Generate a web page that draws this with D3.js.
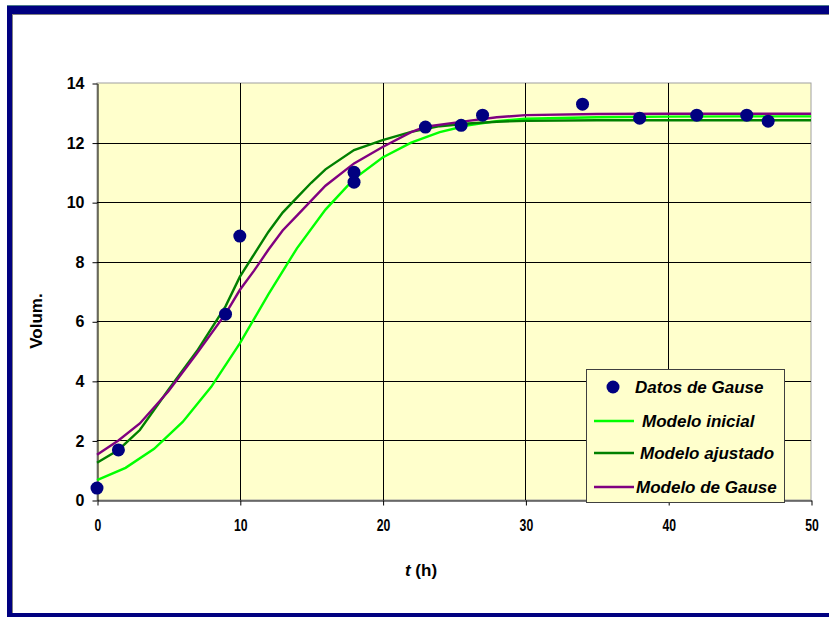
<!DOCTYPE html>
<html><head><meta charset="utf-8">
<script src="https://cdn.jsdelivr.net/npm/d3@7"></script>
<style>
html,body{margin:0;padding:0;background:#fff;}
svg{display:block;}
text{font-family:Arial,"Liberation Sans",sans-serif;font-weight:bold;fill:#000;}
</style></head>
<body>
<svg id="chart" width="829" height="617"></svg>
<script>
// ---- data ----
const xTicks = [0, 10, 20, 30, 40, 50];
const yTicks = [0, 2, 4, 6, 8, 10, 12, 14];
const datosT = [0, 1.5, 9, 10, 18, 18, 23, 25.5, 27, 34, 38, 42, 45.5, 47];
const datosV = [0.4, 1.68, 6.24, 8.86, 11.0, 10.67, 12.52, 12.58, 12.92, 13.29, 12.82, 12.92, 12.92, 12.72];
const inicialT = [0, 2, 4, 6, 8, 10, 12, 14, 16, 18, 20, 22, 24, 26, 28, 30, 35, 40, 45, 50];
const inicialV = [0.67, 1.08, 1.72, 2.62, 3.8, 5.26, 6.9, 8.45, 9.75, 10.78, 11.5, 12.0, 12.35, 12.58, 12.72, 12.8, 12.85, 12.87, 12.88, 12.88];
const ajustadoT = [0, 1.5, 3, 5, 7, 9, 10, 11, 12, 13, 14, 15, 16, 18, 20, 22, 24, 26, 28, 30, 35, 40, 50];
const ajustadoV = [1.25, 1.68, 2.35, 3.7, 5.0, 6.5, 7.49, 8.25, 9.0, 9.65, 10.15, 10.65, 11.1, 11.75, 12.08, 12.36, 12.55, 12.64, 12.7, 12.73, 12.75, 12.75, 12.75];
const gauseT = [0, 1.5, 3, 5, 7, 9, 10, 11, 12, 13, 14, 15, 16, 18, 20, 22, 23, 26, 28, 30, 35, 40, 50];
const gauseV = [1.52, 2.0, 2.57, 3.65, 4.93, 6.25, 7.05, 7.7, 8.4, 9.05, 9.55, 10.05, 10.55, 11.3, 11.85, 12.35, 12.53, 12.73, 12.85, 12.92, 12.96, 12.97, 12.97];
const legendLabels = ["Datos de Gause", "Modelo inicial", "Modelo ajustado", "Modelo de Gause"];
const xTitle = "t";
const xUnit = " (h)";
const yTitle = "Volum.";

// ---- drawing ----
const svg = d3.select("#chart");
const navy = "#000080";

// frame
svg.append("rect").attr("x", 7).attr("y", 5).attr("width", 822).attr("height", 1).attr("fill", "#4a7a8c");
svg.append("rect").attr("x", 7).attr("y", 6).attr("width", 822).attr("height", 611).attr("fill", navy);
svg.append("rect").attr("x", 12).attr("y", 14).attr("width", 817).attr("height", 599).attr("fill", "#808080");
svg.append("rect").attr("x", 13).attr("y", 15).attr("width", 816).attr("height", 598).attr("fill", "#fff");

const L = 97, R = 811, T = 83, B = 500;
const x = d3.scaleLinear().domain([0, 50]).range([L, R]);
const y = d3.scaleLinear().domain([0, 14]).range([B, T]);

// plot area
svg.append("rect").attr("x", L).attr("y", T).attr("width", R - L).attr("height", B - T)
  .attr("fill", "#ffffcc").attr("stroke", "#a0a0a0").attr("stroke-width", 1);

// grid
const g = svg.append("g");
g.selectAll("line.gx").data(xTicks.filter(d => d > 0 && d < 50)).join("line")
  .attr("x1", d => Math.round(x(d)) + 0.5).attr("x2", d => Math.round(x(d)) + 0.5)
  .attr("y1", T).attr("y2", B).attr("stroke", "#000").attr("stroke-width", 1);
g.selectAll("line.gy").data(yTicks.filter(d => d > 0 && d < 14)).join("line")
  .attr("x1", L).attr("x2", R)
  .attr("y1", d => Math.round(y(d)) + 0.5).attr("y2", d => Math.round(y(d)) + 0.5)
  .attr("stroke", "#000").attr("stroke-width", 1);

// axes
const xAxis = svg.append("g").attr("transform", `translate(0.5,${B + 0.5})`)
  .call(d3.axisBottom(x).tickValues(xTicks).tickSize(5).tickSizeOuter(0).tickPadding(13));
const yAxis = svg.append("g").attr("transform", `translate(${L + 0.5},0.5)`)
  .call(d3.axisLeft(y).tickValues(yTicks).tickSize(5).tickSizeOuter(0).tickPadding(8));
[xAxis, yAxis].forEach(a => {
  a.selectAll(".domain").attr("stroke", "#000");
  a.selectAll(".tick line").attr("stroke", "#000");
});
yAxis.selectAll(".tick text").style("font-size", "16px").style("font-weight", "bold")
  .style("font-family", "Arial, 'Liberation Sans', sans-serif").attr("fill", "#000");
xAxis.selectAll(".tick text").style("font-size", "17px").style("font-weight", "bold")
  .style("font-family", "Arial, 'Liberation Sans', sans-serif").attr("fill", "#000")
  .attr("transform", "scale(0.72,1)");

// lines
const line = d3.line().x(d => x(d[0])).y(d => y(d[1]));
const series = [
  {t: inicialT, v: inicialV, color: "#00ff00"},
  {t: ajustadoT, v: ajustadoV, color: "#008000"},
  {t: gauseT, v: gauseV, color: "#800080"}
];
series.forEach(s => {
  svg.append("path").datum(s.t.map((t, i) => [t, s.v[i]]))
    .attr("d", line).attr("fill", "none").attr("stroke", s.color).attr("stroke-width", 2.4);
});

// points
svg.selectAll("circle.pt").data(datosT.map((t, i) => [t, datosV[i]])).join("circle")
  .attr("cx", d => x(d[0])).attr("cy", d => y(d[1])).attr("r", 6.5).attr("fill", navy);

// axis titles
const xt = svg.append("text").attr("x", 421).attr("y", 576).attr("text-anchor", "middle")
  .style("font-size", "17px");
xt.append("tspan").style("font-style", "italic").text(xTitle);
xt.append("tspan").text(xUnit);
svg.append("text").attr("transform", "translate(42,321) rotate(-90)").attr("text-anchor", "middle")
  .style("font-size", "17px").text(yTitle);

// legend
const lg = svg.append("g");
lg.append("rect").attr("x", 586.5).attr("y", 369.5).attr("width", 198).attr("height", 133)
  .attr("fill", "#ffffcc").attr("stroke", "#404040").attr("stroke-width", 1);
const rows = [387, 421, 453, 487];
const lcolors = [null, "#00ff00", "#008000", "#800080"];
const textX = [635, 642, 640, 636];
rows.forEach((ry, i) => {
  if (i === 0) {
    lg.append("circle").attr("cx", 613).attr("cy", ry).attr("r", 6.5).attr("fill", navy);
  } else {
    lg.append("line").attr("x1", 594).attr("x2", 634).attr("y1", ry).attr("y2", ry)
      .attr("stroke", lcolors[i]).attr("stroke-width", 2.5);
  }
  lg.append("text").attr("x", textX[i]).attr("y", ry + 6).style("font-size", "17px")
    .style("font-style", "italic").text(legendLabels[i]);
});
</script>
</body></html>
